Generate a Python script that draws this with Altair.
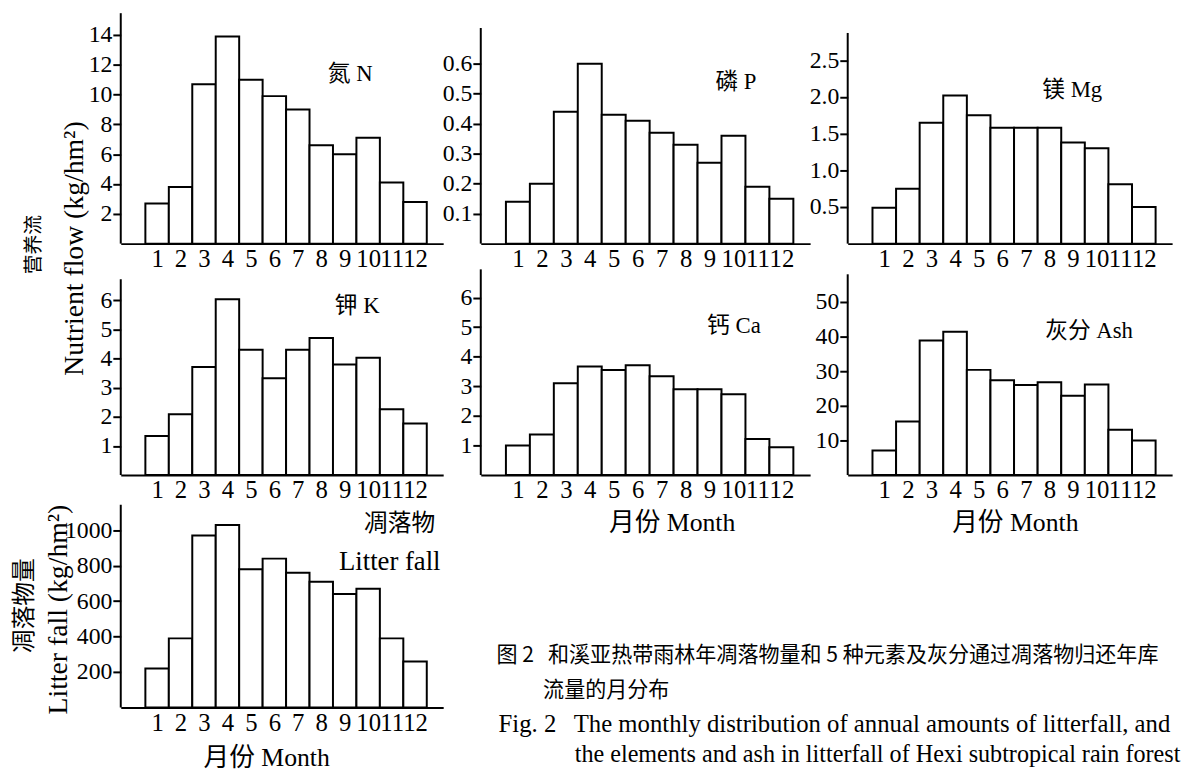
import altair as alt
import pandas as pd

months = list(range(1, 13))
nitrogen = [2.7, 3.8, 10.7, 13.9, 11.0, 9.9, 9.0, 6.6, 6.0, 7.1, 4.1, 2.8]
phosphorus = [0.14, 0.20, 0.44, 0.60, 0.43, 0.41, 0.37, 0.33, 0.27, 0.36, 0.19, 0.15]
magnesium = [0.49, 0.75, 1.65, 2.02, 1.75, 1.58, 1.58, 1.58, 1.38, 1.30, 0.81, 0.50]
potassium = [1.34, 2.09, 3.71, 6.03, 4.30, 3.32, 4.30, 4.70, 3.79, 4.02, 2.26, 1.77]
calcium = [1.00, 1.37, 3.10, 3.67, 3.55, 3.71, 3.34, 2.90, 2.90, 2.73, 1.22, 0.94]
ash = [7.1, 15.5, 38.9, 41.4, 30.4, 27.4, 26.0, 26.8, 22.9, 26.2, 13.1, 10.0]
litter = [220, 390, 970, 1030, 780, 840, 760, 710, 640, 670, 390, 260]

ticks_n = [2, 4, 6, 8, 10, 12, 14]
ticks_p = [0.1, 0.2, 0.3, 0.4, 0.5, 0.6]
ticks_mg = [0.5, 1.0, 1.5, 2.0, 2.5]
ticks_k = [1, 2, 3, 4, 5, 6]
ticks_ca = [1, 2, 3, 4, 5, 6]
ticks_ash = [10, 20, 30, 40, 50]
ticks_litter = [200, 400, 600, 800, 1000]

panel_labels = ["氮 N", "磷 P", "镁 Mg", "钾 K", "钙 Ca", "灰分 Ash"]
litter_label = ["凋落物", "Litter fall"]
nutrient_title = ["营养流", "Nutrient flow (kg/hm²)"]
litter_title = ["凋落物量", "Litter fall (kg/hm²)"]
month_title = "月份 Month"
caption_cn = ["图 2", "和溪亚热带雨林年凋落物量和 5 种元素及灰分通过凋落物归还年库", "流量的月分布"]
caption_en = ["Fig. 2", "The monthly distribution of annual amounts of litterfall, and",
              "the elements and ash in litterfall of Hexi subtropical rain forest"]

SERIF = "Liberation Serif, Noto Sans CJK SC"
CJK = "Noto Sans CJK SC"


def text_layer(s, x, y, size, font=SERIF, angle=0, align="center"):
    return alt.Chart(pd.DataFrame({"t": [s]})).mark_text(
        font=font, fontSize=size, angle=angle, align=align, baseline="middle", color="black"
    ).encode(x=alt.value(x), y=alt.value(y), text="t:N")


def panel(values, ymax, ticks, fmt, width, height, axis_top=0, xtitle=None, title_x=0, title_y=48, extras=()):
    df = pd.DataFrame({"month": months, "value": values})
    xaxis = dict(values=months, ticks=False, labelOverlap=False, labelFlush=False, labelFontSize=25,
                 labelPadding=3, labelFont=SERIF, format="d", grid=False)
    if xtitle:
        xaxis.update(title=xtitle, titleX=title_x, titleY=title_y, titleBaseline="middle",
                     titleAlign="center", titleFont=SERIF, titleFontSize=26, titleFontWeight="normal",
                     titleColor="black")
    else:
        xaxis.update(title=None)
    bars = alt.Chart(df).transform_calculate(
        lo="datum.month - 0.5", hi="datum.month + 0.5"
    ).mark_bar(fill="white", stroke="black", strokeWidth=2).encode(
        x=alt.X("lo:Q", scale=alt.Scale(domain=[-0.55, 13.2], nice=False, zero=False), axis=alt.Axis(**xaxis)),
        x2="hi:Q",
        y=alt.Y("value:Q", scale=alt.Scale(domain=[0, ymax], nice=False),
                axis=alt.Axis(values=ticks, format=fmt, title=None, tickSize=8, labelPadding=1,
                              labelFontSize=24, labelFont=SERIF, grid=False, domain=False)),
        y2=alt.datum(0),
    )
    yline = alt.Chart(pd.DataFrame({"a": [0]})).mark_rule(color="black", strokeWidth=2).encode(
        x=alt.value(0), y=alt.value(axis_top), y2=alt.value(height)
    )
    return alt.layer(bars, yline, *extras).properties(width=width, height=height)


W1, W2, W3 = 326, 333, 328
H1, H2, H3 = 232, 204, 205

p_n = panel(nitrogen, 15.4, ticks_n, "d", W1, H1, axis_top=-1,
            extras=[text_layer(panel_labels[0], 232, 61, 23)])
p_p = panel(phosphorus, 0.765, ticks_p, ".1f", W2, H1, axis_top=14,
            extras=[text_layer(panel_labels[1], 258, 69, 23)])
p_mg = panel(magnesium, 3.13, ticks_mg, ".1f", W3, H1, axis_top=19,
             extras=[text_layer(panel_labels[2], 227, 77, 23)])

p_k = panel(potassium, 6.92, ticks_k, "d", W1, H2, axis_top=6, extras=[
    text_layer(panel_labels[3], 239, 33, 23),
    text_layer(nutrient_title[0], -88, -29, 20, font=CJK, angle=270),
    text_layer(nutrient_title[1], -46, -25, 28, angle=270),
])
p_ca = panel(calcium, 6.82, ticks_ca, "d", W2, H2, axis_top=-4, xtitle=month_title, title_x=193, title_y=48,
             extras=[text_layer(panel_labels[4], 256, 53, 23)])
p_ash = panel(ash, 58.3, ticks_ash, "d", W3, H2, axis_top=1, xtitle=month_title, title_x=169, title_y=48,
              extras=[text_layer(panel_labels[5], 244, 58, 23)])

p_litter = panel(litter, 1144, ticks_litter, "d", W1, H3, axis_top=0, xtitle=month_title, title_x=147, title_y=51,
                 extras=[
    text_layer(litter_label[0], 282, 20, 24),
    text_layer(litter_label[1], 272, 58, 27),
    text_layer(litter_title[0], -97, 102, 24, font=CJK, angle=270),
    text_layer(litter_title[1], -62, 106, 28, angle=270),
    text_layer(caption_cn[0], 380, 153, 21.3, font=CJK, align="left"),
    text_layer(caption_cn[1], 432, 153, 21.3, font=CJK, align="left"),
    text_layer(caption_cn[2], 427, 188, 21.3, font=CJK, align="left"),
    text_layer(caption_en[0], 382, 222, 25, align="left"),
    text_layer(caption_en[1], 458, 222, 25, align="left"),
    text_layer(caption_en[2], 459, 253, 24.4, align="left"),
])

chart = alt.concat(
    p_n, p_p, p_mg, p_k, p_ca, p_ash, p_litter,
    columns=3, align="each", bounds="flush", spacing={"row": 30, "column": 38},
).properties(
    padding={"left": 5, "top": 0, "right": 2, "bottom": 0},
    background="white",
).configure_view(strokeWidth=0).configure_axis(
    domainColor="black", domainWidth=2, tickColor="black", tickWidth=2, labelColor="black",
    titleColor="black",
)

chart.save("out.html", embed_options={"renderer": "svg", "actions": False})
